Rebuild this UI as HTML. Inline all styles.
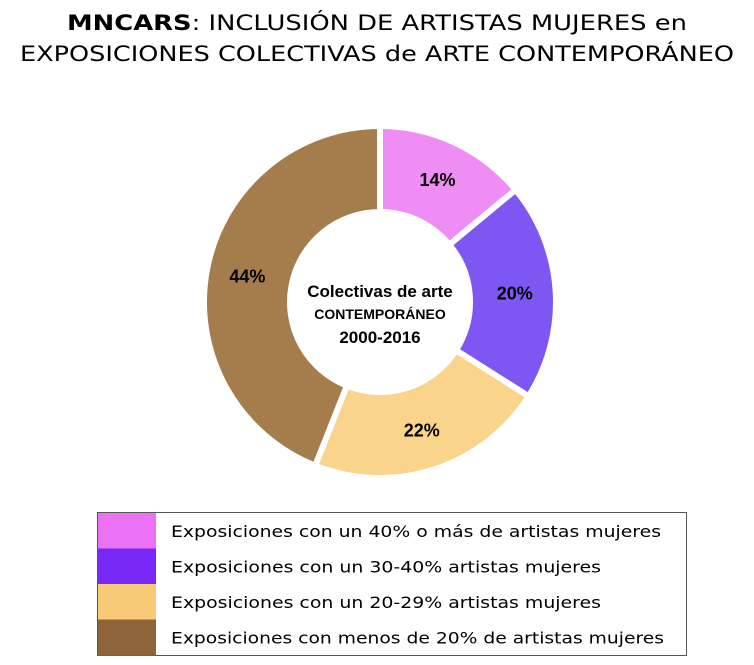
<!DOCTYPE html>
<html><head><meta charset="utf-8"><style>
body{margin:0;background:#fff;}
svg{display:block;}
</style></head><body>
<svg width="754" height="665" viewBox="0 0 754 665">
<text x="377" y="30" text-anchor="middle" font-family="DejaVu Sans, sans-serif" font-size="21" fill="#000" textLength="620" lengthAdjust="spacingAndGlyphs"><tspan font-weight="bold">MNCARS</tspan>: INCLUSIÓN DE ARTISTAS MUJERES en</text>
<text x="377" y="61" text-anchor="middle" font-family="DejaVu Sans, sans-serif" font-size="21" fill="#000" textLength="714" lengthAdjust="spacingAndGlyphs">EXPOSICIONES COLECTIVAS de ARTE CONTEMPORÁNEO</text>
<g id="slices"></g>
<g id="center-label" font-family="Liberation Sans, sans-serif" font-weight="bold" text-anchor="middle" fill="#000">
<text x="380" y="297" font-size="17">Colectivas de arte</text>
<text x="380" y="319" font-size="14">CONTEMPORÁNEO</text>
<text x="380" y="343" font-size="17">2000-2016</text>
</g>
<rect x="97.5" y="512.5" width="589" height="143" fill="#fff" stroke="#555" stroke-width="1"/>
<g id="legend"></g>
</svg>
<script>
const categories = ["Exposiciones con un 40% o más de artistas mujeres","Exposiciones con un 30-40% artistas mujeres","Exposiciones con un 20-29% artistas mujeres","Exposiciones con menos de 20% de artistas mujeres"];
const values = [14, 20, 22, 44];
const valueLabels = ["14%","20%","22%","44%"];
const sliceColors = ["#EE8EF5","#7E57F2","#F9D48A","#A57C4C"];
const legendColors = ["#EC72F5","#7828F5","#F8CA78","#8E653B"];
const NS="http://www.w3.org/2000/svg";
const cx=380, cy=302, R=176, r=90;
const total=values.reduce((a,b)=>a+b,0);
function pt(ang,rad){return [cx+rad*Math.sin(ang), cy-rad*Math.cos(ang)];}
const g=document.getElementById('slices');
let acc=0;
values.forEach((v,i)=>{
  const a0=acc/total*2*Math.PI; acc+=v; const a1=acc/total*2*Math.PI;
  const large=(a1-a0)>Math.PI?1:0;
  const [x0,y0]=pt(a0,R),[x1,y1]=pt(a1,R),[x2,y2]=pt(a1,r),[x3,y3]=pt(a0,r);
  const p=document.createElementNS(NS,'path');
  p.setAttribute('d',`M${x0},${y0}A${R},${R} 0 ${large} 1 ${x1},${y1}L${x2},${y2}A${r},${r} 0 ${large} 0 ${x3},${y3}Z`);
  p.setAttribute('fill',sliceColors[i]);
  p.setAttribute('stroke','#fff');
  p.setAttribute('stroke-width','6');
  
  
  g.appendChild(p);
  const am=(a0+a1)/2; const [lx,ly]=pt(am,(R+r)/2+2);
  const t=document.createElementNS(NS,'text');
  t.setAttribute('x',lx); t.setAttribute('y',ly+6);
  t.setAttribute('text-anchor','middle');
  t.setAttribute('font-family','Liberation Sans, sans-serif');
  t.setAttribute('font-weight','bold'); t.setAttribute('font-size','18');
  t.textContent=valueLabels[i];
  
  
  g.appendChild(t);
});
const lg=document.getElementById('legend');
const lens=[490,430,430,493];
categories.forEach((c,i)=>{
  const y=513+i*35.5;
  const s=document.createElementNS(NS,'rect');
  s.setAttribute('x',98); s.setAttribute('y',y); s.setAttribute('width',58); s.setAttribute('height',36);
  s.setAttribute('fill',legendColors[i]);
  
  
  lg.appendChild(s);
  const t=document.createElementNS(NS,'text');
  t.setAttribute('x',171); t.setAttribute('y',y+24);
  t.setAttribute('font-family','DejaVu Sans, sans-serif'); t.setAttribute('font-size','16');
  t.setAttribute('textLength',lens[i]); t.setAttribute('lengthAdjust','spacingAndGlyphs');
  t.textContent=c;
  
  
  lg.appendChild(t);
});
</script>
</body></html>
